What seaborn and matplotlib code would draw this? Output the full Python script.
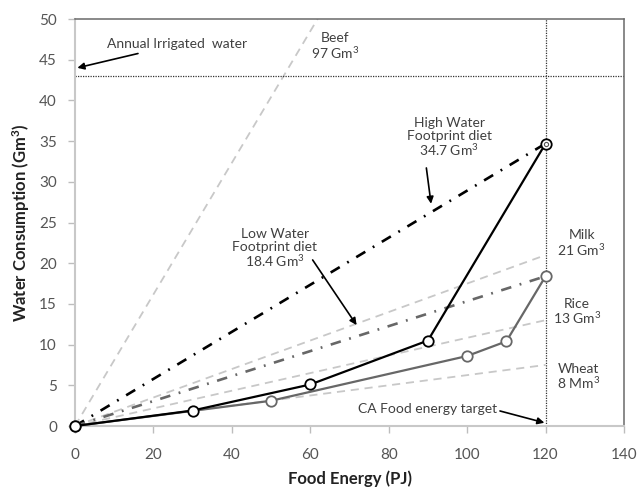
import matplotlib
matplotlib.use("Agg")
import matplotlib.pyplot as plt
import seaborn as sns
import pandas as pd

# ---- data ----
high_energy = [0, 30, 60, 90, 120]
high_water = [0, 1.9, 5.1, 10.5, 34.7]
low_energy = [0, 50, 100, 110, 120]
low_water = [0, 3.1, 8.6, 10.4, 18.4]
crops = ["Beef", "Milk", "Rice", "Wheat"]
crop_energy = [0, 120]
crop_water_at_target = [97, 21, 13, 7.5]
irrigated_water = 43
energy_target = 120
x_ticks = [0, 20, 40, 60, 80, 100, 120, 140]
y_ticks = [0, 5, 10, 15, 20, 25, 30, 35, 40, 45, 50]

sns.set_theme(style="white")
plt.rcParams['font.family'] = ['Lato', 'DejaVu Sans']
plt.rcParams['mathtext.fontset'] = 'custom'
plt.rcParams['mathtext.rm'] = 'Lato'
plt.rcParams['mathtext.it'] = 'Lato:italic'
plt.rcParams['mathtext.bf'] = 'Lato:bold'

fig = plt.figure(figsize=(6.41, 4.91), dpi=100)
ax = fig.add_axes([75/641, 1-426/491, (624-75)/641, (426-19)/491])

LIGHT = "#c8c8c8"
DARKG = "#676767"

# crop reference lines (dashed light gray)
for name, v in zip(crops, crop_water_at_target):
    sns.lineplot(x=crop_energy, y=[0, v], ax=ax, color=LIGHT, lw=1.3,
                 dashes=False, linestyle=(0, (4.5, 3.2)), zorder=1)

# straight dash-dot average lines
sns.lineplot(x=[high_energy[0], high_energy[-1]], y=[high_water[0], high_water[-1]],
             ax=ax, color="black", lw=1.9, linestyle=(0, (4, 3.3, 0.7, 3.3)), zorder=2)
sns.lineplot(x=[low_energy[0], low_energy[-1]], y=[low_water[0], low_water[-1]],
             ax=ax, color=DARKG, lw=1.9, linestyle=(0, (4, 3.3, 0.7, 3.3)), zorder=2)

# reference dotted lines
ax.axhline(irrigated_water, color="#333333", lw=0.9, linestyle=(0, (1, 1)), zorder=1)
ax.axvline(energy_target, color="#333333", lw=0.9, linestyle=(0, (1, 1)), zorder=1)

# diet scenario lines
sns.lineplot(x=low_energy, y=low_water, ax=ax, color=DARKG, lw=1.6,
             marker="o", markersize=7.5, markerfacecolor="white",
             markeredgecolor=DARKG, markeredgewidth=1.3, clip_on=False, zorder=3)
sns.lineplot(x=high_energy, y=high_water, ax=ax, color="black", lw=1.6,
             marker="o", markersize=7.5, markerfacecolor="white",
             markeredgecolor="black", markeredgewidth=1.3, clip_on=False, zorder=4)
# inner dot at high endpoint
ax.plot([high_energy[-1]], [high_water[-1]], marker="o", markersize=3,
        markerfacecolor="white", markeredgecolor="#555555", markeredgewidth=0.8, zorder=5)

ax.set_xlim(0, 140)
ax.set_ylim(0, 50)
ax.set_xticks(x_ticks)
ax.set_yticks(y_ticks)

TICKC = "#555555"
ax.tick_params(axis="both", which="both", direction="out", length=5, width=1,
               color="#bdbdbd", labelcolor=TICKC, labelsize=11, bottom=True, left=True)
ax.tick_params(axis="x", pad=11)
ax.tick_params(axis="y", pad=8)

for s in ["left", "bottom"]:
    ax.spines[s].set_color("#c8c8c8")
    ax.spines[s].set_linewidth(1.5)
for s in ["top", "right"]:
    ax.spines[s].set_color("#6a6a6a")
    ax.spines[s].set_linewidth(1.1)
ax.grid(False)

ax.set_xlabel("Food Energy (PJ)", fontsize=12, fontweight="bold", color="#222222", labelpad=6)
ax.set_ylabel(r"Water Consumption (Gm$^\mathbf{3}$)", fontsize=12, fontweight="bold",
              color="#222222", labelpad=5)

TXT = "#404040"
fs = 10
G3 = r"Gm$^3$"
ax.annotate("Annual Irrigated  water", xy=(0.6, 44.0), xytext=(8.2, 46.9),
            fontsize=fs, color=TXT, va="center", ha="left",
            arrowprops=dict(arrowstyle="-|>", color="black", lw=1.2, mutation_scale=10,
                            shrinkA=0, shrinkB=0))
ax.text(66.4, 46.6, "Beef\n97 " + G3, fontsize=fs, color=TXT, ha="center", va="center",
        linespacing=1.05)
ax.text(95.4, 35.4, "High Water\nFootprint diet\n34.7 " + G3, fontsize=fs, color=TXT,
        ha="center", va="center", linespacing=1.05)
ax.annotate("", xy=(90.8, 27.3), xytext=(89.6, 31.7),
            arrowprops=dict(arrowstyle="-|>", color="black", lw=1.2, mutation_scale=10,
                            shrinkA=0, shrinkB=0))
ax.text(51.0, 21.8, "Low Water\nFootprint diet\n18.4 " + G3, fontsize=fs, color=TXT,
        ha="center", va="center", linespacing=1.05)
ax.annotate("", xy=(71.8, 12.4), xytext=(60.6, 20.4),
            arrowprops=dict(arrowstyle="-|>", color="black", lw=1.2, mutation_scale=10,
                            shrinkA=0, shrinkB=0))
ax.text(129.2, 22.4, "Milk\n21 " + G3, fontsize=fs, color=TXT, ha="center", va="center",
        linespacing=1.05)
ax.text(128.0, 14.0, "Rice\n13 " + G3, fontsize=fs, color=TXT, ha="center", va="center",
        linespacing=1.05)
ax.text(128.5, 6.0, "Wheat\n8 Mm$^3$", fontsize=fs, color=TXT, ha="center", va="center",
        linespacing=1.05)
ax.annotate("CA Food energy target", xy=(119.7, 0.4), xytext=(89.8, 2.1),
            fontsize=fs, color=TXT, ha="center", va="center",
            arrowprops=dict(arrowstyle="-|>", color="black", lw=1.2, mutation_scale=10,
                            shrinkA=0, shrinkB=0, relpos=(1.0, 0.4)))

fig.savefig("out.png", dpi=100)
